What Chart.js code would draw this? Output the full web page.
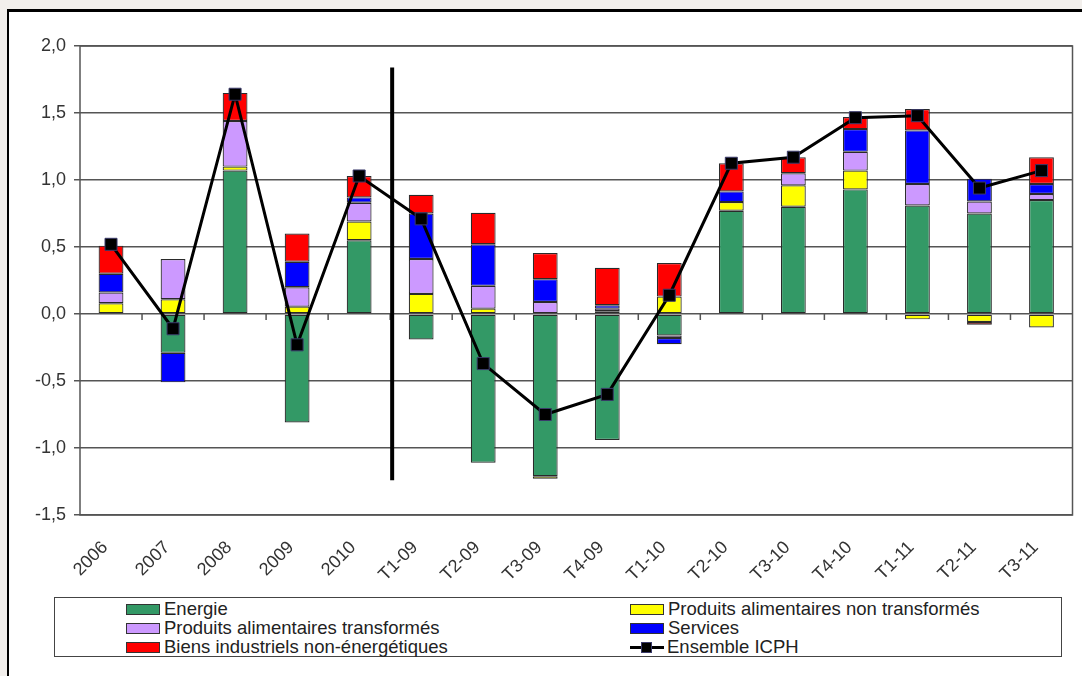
<!DOCTYPE html>
<html>
<head>
<meta charset="utf-8">
<script src="https://cdn.jsdelivr.net/npm/chart.js@4/dist/chart.umd.min.js"></script>
<style>
  body { margin: 0; background: #f2efec; font-family: "Liberation Sans", Arial, sans-serif; }
  #page { position: relative; width: 1082px; height: 676px; overflow: hidden; }
  #frame { position: absolute; left: 7px; top: 9px; right: 0; bottom: 0; background: #fff;
           border-left: 2px solid #000; border-top: 3px solid #000; }
  canvas { position: absolute; left: 0; top: 0; }
  #legend { position: absolute; left: 54px; top: 597px; width: 1006px; height: 58px;
            border: 1.5px solid #444; background: #fff; font-size: 18.5px; color: #222; }
  .item { position: absolute; height: 19px; line-height: 19px; white-space: nowrap; }
  .sw { display: inline-block; width: 32px; height: 9px; border: 1.5px solid #333;
        vertical-align: middle; margin-right: 4px; position: relative; top: -1px; }
  .ln { display: inline-block; width: 34px; height: 12px; position: relative; vertical-align: middle;
        margin-right: 3px; top: -1px; }
  .ln:before { content: ""; position: absolute; left: 0; right: 0; top: 5px; height: 3px; background: #000; }
  .ln:after { content: ""; position: absolute; left: 11px; top: 1px; width: 9px; height: 9px;
              background: #000; border: 1px solid #3a3a6a; }
</style>
</head>
<body>
<div id="page">
  <div id="frame"></div>
  <canvas id="myChart" width="1082" height="676"></canvas>
  <div id="legend"></div>
</div>
<script>
const categories = ['2006', '2007', '2008', '2009', '2010', 'T1-09', 'T2-09', 'T3-09', 'T4-09',
  'T1-10', 'T2-10', 'T3-10', 'T4-10', 'T1-11', 'T2-11', 'T3-11'];

const energie = [null, -0.29, 1.07, -0.81, 0.55, -0.19, -1.11, -1.21, -0.94, -0.16, 0.77, 0.80, 0.93, 0.81, 0.75, 0.85];
const alimNonTransformes = [0.08, 0.11, 0.03, 0.055, 0.14, 0.15, 0.04, -0.02, 0.02, 0.13, 0.065, 0.16, 0.14, -0.04, -0.06, -0.10];
const alimTransformes = [0.08, 0.30, 0.34, 0.145, 0.14, 0.26, 0.17, 0.09, 0.02, -0.02, null, 0.09, 0.14, 0.16, 0.09, 0.045];
const services = [0.14, -0.22, null, 0.19, 0.04, 0.34, 0.31, 0.17, 0.025, -0.045, 0.08, null, 0.17, 0.40, 0.17, 0.075];
const biensIndustriels = [0.21, null, 0.21, 0.21, 0.16, 0.14, 0.235, 0.195, 0.28, 0.25, 0.21, 0.12, 0.09, 0.16, -0.02, 0.20];
const ensembleICPH = [0.52, -0.11, 1.64, -0.23, 1.03, 0.71, -0.37, -0.75, -0.60, 0.14, 1.125, 1.17, 1.465, 1.48, 0.94, 1.07];

const yTicks = [2.0, 1.5, 1.0, 0.5, 0.0, -0.5, -1.0, -1.5];
// thick separator between annual and quarterly data
const separatorTop = 1.84;
const separatorBottom = -1.24;

const fontFamily = '"Liberation Sans", Arial, sans-serif';

function barSet(label, data, color) {
  return {
    type: 'bar', label, data, backgroundColor: color,
    borderColor: '#2a2a2a', borderWidth: 1.2, borderSkipped: false,
    stack: 'contrib', order: 2, barPercentage: 0.4, categoryPercentage: 1
  };
}

const extras = {
  id: 'extras',
  beforeDatasetsDraw(chart) {
    const { ctx, chartArea, scales: { x, y } } = chart;
    // small tick marks on the zero line, between categories
    const y0 = y.getPixelForValue(0);
    ctx.save();
    ctx.strokeStyle = '#555';
    ctx.lineWidth = 1.5;
    ctx.beginPath();
    for (let i = 1; i < categories.length; i++) {
      const xb = (x.getPixelForValue(i - 1) + x.getPixelForValue(i)) / 2;
      ctx.moveTo(xb, y0);
      ctx.lineTo(xb, y0 + 6);
    }
    ctx.stroke();
    // plot box
    ctx.strokeRect(chartArea.left, chartArea.top, chartArea.right - chartArea.left, chartArea.bottom - chartArea.top);
    ctx.restore();
  },
  afterDatasetsDraw(chart) {
    const { ctx, scales: { x, y } } = chart;
    const xs = (x.getPixelForValue(4) + x.getPixelForValue(5)) / 2 + 2;
    ctx.save();
    ctx.strokeStyle = '#000';
    ctx.lineWidth = 4;
    ctx.beginPath();
    ctx.moveTo(xs, y.getPixelForValue(separatorTop));
    ctx.lineTo(xs, y.getPixelForValue(separatorBottom));
    ctx.stroke();
    ctx.restore();
  }
};

new Chart(document.getElementById('myChart'), {
  data: {
    labels: categories,
    datasets: [
      {
        type: 'line', label: 'Ensemble ICPH', data: ensembleICPH, stack: 'icph', order: 1,
        borderColor: '#000', borderWidth: 3, tension: 0,
        pointStyle: 'rect', pointRadius: 8.5, pointBackgroundColor: '#000',
        pointBorderColor: '#3a3a6a', pointBorderWidth: 1
      },
      barSet('Energie', energie, '#339966'),
      barSet('Produits alimentaires non transformés', alimNonTransformes, '#ffff00'),
      barSet('Produits alimentaires transformés', alimTransformes, '#cc99ff'),
      barSet('Services', services, '#0000ff'),
      barSet('Biens industriels non-énergétiques', biensIndustriels, '#ff0000')
    ]
  },
  options: {
    responsive: false,
    animation: false,
    devicePixelRatio: 1,
    layout: { padding: { left: 0, top: 46, right: 3, bottom: 81 } },
    plugins: { legend: { display: false }, tooltip: { enabled: false } },
    scales: {
      x: {
        stacked: true,
        grid: { display: false, drawTicks: false },
        border: { display: false },
        ticks: {
          color: '#333', font: { family: fontFamily, size: 18 },
          minRotation: 45, maxRotation: 45, padding: 22, labelOffset: -6, autoSkip: false
        },
        afterFit(scale) { scale.height = 80; }
      },
      y: {
        stacked: true,
        min: -1.5, max: 2.0,
        afterBuildTicks(scale) { scale.ticks = yTicks.map(v => ({ value: v })); },
        grid: { color: '#555', lineWidth: 1.5, tickLength: 6, tickColor: '#555' },
        border: { display: false },
        ticks: {
          color: '#333', font: { family: fontFamily, size: 18 }, padding: 8,
          callback: v => v.toFixed(1).replace('.', ',')
        },
        afterFit(scale) { scale.width = 80; }
      }
    }
  },
  plugins: [extras]
});

// legend, two columns as in the original
const legendItems = [
  { label: 'Energie', color: '#339966', col: 0, row: 0 },
  { label: 'Produits alimentaires non transformés', color: '#ffff00', col: 1, row: 0 },
  { label: 'Produits alimentaires transformés', color: '#cc99ff', col: 0, row: 1 },
  { label: 'Services', color: '#0000ff', col: 1, row: 1 },
  { label: 'Biens industriels non-énergétiques', color: '#ff0000', col: 0, row: 2 },
  { label: 'Ensemble ICPH', line: true, col: 1, row: 2 }
];
const legend = document.getElementById('legend');
legendItems.forEach(it => {
  const d = document.createElement('div');
  d.className = 'item';
  d.style.left = (it.col ? 575 : 71) + 'px';
  d.style.top = (1 + it.row * 19) + 'px';
  const sw = document.createElement('span');
  if (it.line) sw.className = 'ln';
  else { sw.className = 'sw'; sw.style.background = it.color; }
  d.appendChild(sw);
  d.appendChild(document.createTextNode(it.label));
  legend.appendChild(d);
});
</script>
</body>
</html>
